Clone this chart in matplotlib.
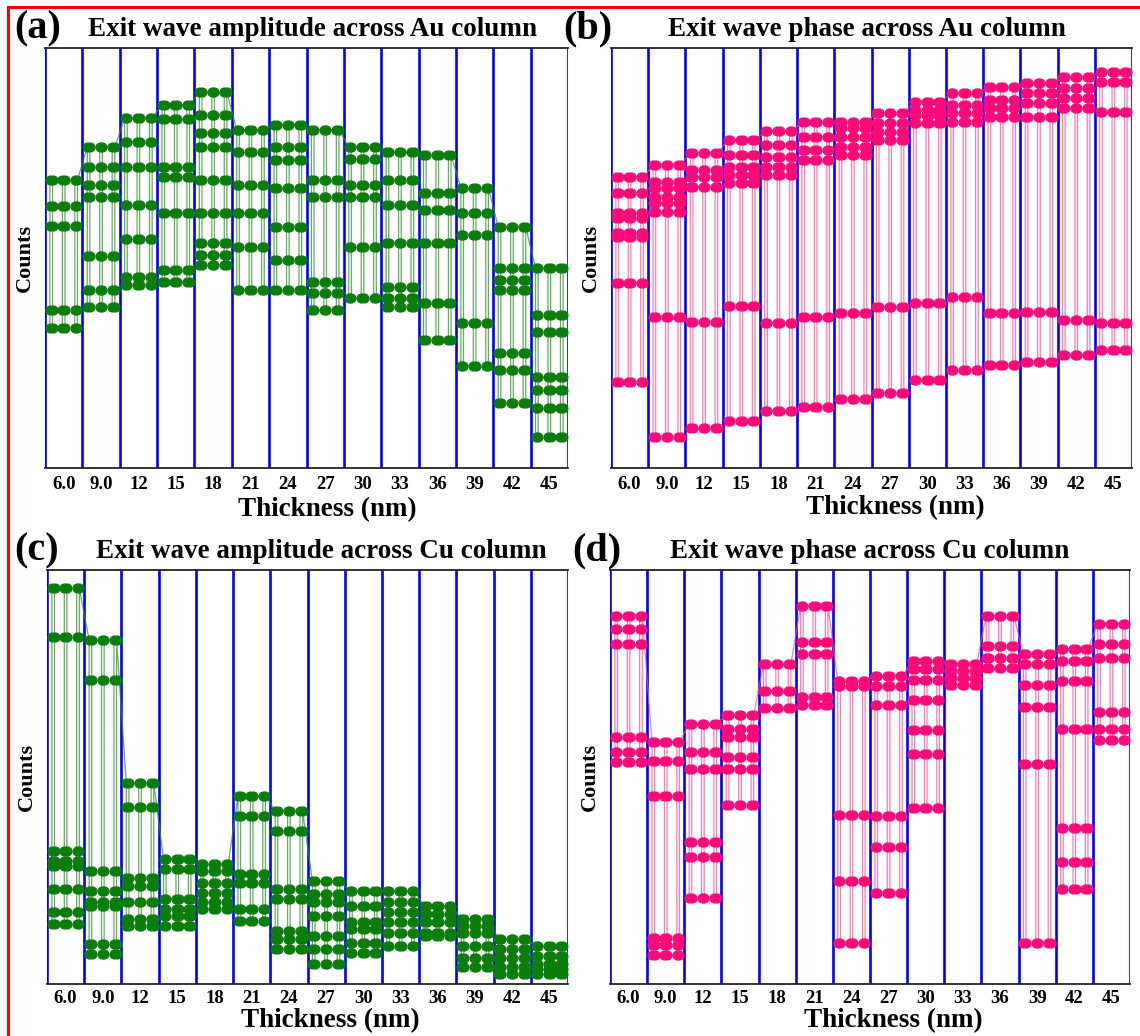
import numpy as np
import matplotlib
matplotlib.use("Agg")
import matplotlib.pyplot as plt
from matplotlib.lines import Line2D

plt.rcParams["font.family"] = ["Liberation Serif", "DejaVu Serif"]
plt.rcParams["font.weight"] = "bold"

# %% data: levels visited by each line profile, one list per thickness
thickness = ["6.0", "9.0", "12", "15", "18", "21", "24", "27", "30", "33", "36", "39", "42", "45"]

amp_au = [
    [68.6, 62.4, 57.6, 37.6, 33.3],
    [76.4, 71.7, 67.4, 64.5, 50.5, 42.4, 38.3],
    [83.3, 77.6, 71.7, 62.6, 54.5, 45.5, 43.6],
    [86.4, 83.1, 71.7, 69.3, 60.7, 47.1, 44.3],
    [89.5, 84.0, 79.8, 76.4, 68.6, 60.7, 53.6, 50.7, 48.3],
    [80.5, 75.2, 67.4, 60.7, 52.6, 42.4],
    [81.7, 76.4, 73.3, 66.7, 57.4, 49.5, 42.4],
    [80.5, 68.6, 64.5, 44.3, 41.7, 37.6],
    [76.4, 73.6, 67.4, 64.5, 52.6, 40.5],
    [75.2, 68.6, 62.6, 53.6, 43.1, 40.5, 38.3],
    [74.5, 65.5, 61.4, 53.6, 39.3, 30.5],
    [66.7, 60.7, 55.5, 34.5, 24.3],
    [57.4, 47.6, 44.8, 42.4, 27.4, 23.3, 15.5],
    [47.6, 36.4, 32.4, 21.7, 18.6, 14.3, 7.4],
]

phase_au = [
    [69.3, 65.5, 60.7, 59.5, 56.0, 55.0, 44.0, 20.5],
    [72.1, 68.1, 66.7, 64.5, 63.1, 61.0, 36.0, 7.4],
    [75.0, 71.0, 69.3, 66.9, 34.8, 9.5],
    [78.1, 74.5, 71.7, 69.8, 67.9, 38.6, 11.2],
    [80.2, 76.9, 74.0, 71.7, 69.8, 34.5, 13.6],
    [82.4, 78.8, 75.7, 73.3, 36.0, 14.5],
    [82.4, 81.0, 78.8, 76.4, 74.5, 36.9, 16.4],
    [84.5, 82.1, 80.0, 78.1, 38.3, 17.9],
    [87.1, 85.2, 84.0, 82.1, 39.3, 21.0],
    [89.3, 86.4, 84.5, 82.4, 40.7, 23.3],
    [90.7, 87.6, 85.7, 83.6, 36.9, 24.5],
    [91.7, 89.3, 86.9, 83.6, 37.1, 25.2],
    [93.1, 90.5, 88.1, 85.7, 35.2, 26.9],
    [94.3, 91.9, 84.8, 34.5, 28.1],
]

amp_cu = [
    [95.6, 83.9, 32.1, 29.7, 28.5, 22.9, 17.3, 14.5],
    [83.1, 73.5, 27.3, 22.5, 19.7, 18.9, 9.6, 7.2],
    [48.6, 42.8, 25.7, 23.7, 19.7, 15.7, 14.1],
    [30.1, 27.7, 20.5, 18.1, 16.5, 14.1],
    [28.9, 27.3, 24.5, 22.1, 19.7, 18.1],
    [45.4, 40.6, 26.5, 24.5, 18.1, 15.3],
    [41.8, 36.9, 22.9, 20.5, 12.9, 10.8, 8.4],
    [24.9, 21.7, 19.7, 16.5, 11.6, 8.4, 4.8],
    [22.5, 18.9, 14.9, 13.3, 10.0, 7.6],
    [22.5, 19.7, 17.3, 14.9, 12.4, 9.2],
    [18.9, 16.9, 14.9, 12.4, 11.6],
    [15.7, 14.1, 12.4, 9.2, 6.4, 4.0],
    [10.8, 8.4, 6.4, 4.0, 2.4],
    [9.2, 6.8, 4.8, 3.6, 2.4],
]

phase_cu = [
    [89.0, 85.7, 82.1, 59.7, 56.0, 53.6],
    [58.5, 53.9, 45.4, 11.1, 9.4, 7.0],
    [62.8, 56.0, 51.9, 34.3, 30.7, 20.8],
    [65.0, 61.6, 59.7, 54.8, 51.9, 43.2],
    [77.2, 70.7, 66.7],
    [91.3, 82.5, 79.7, 69.4, 67.4],
    [73.2, 72.0, 40.8, 24.9, 9.9],
    [74.4, 72.0, 67.4, 40.5, 33.1, 22.1],
    [78.0, 76.0, 73.5, 68.6, 61.4, 55.6, 42.5],
    [77.2, 75.6, 73.9, 72.2],
    [89.0, 81.6, 78.8, 76.3],
    [79.7, 77.2, 72.2, 66.9, 53.1, 9.9],
    [80.9, 78.0, 73.2, 61.6, 37.7, 29.5, 22.9],
    [87.0, 82.1, 78.7, 65.7, 61.6, 58.9],
]

titles = ["Exit wave amplitude across Au column", "Exit wave phase across Au column",
          "Exit wave amplitude across Cu column", "Exit wave phase across Cu column"]
tags = ["(a)", "(b)", "(c)", "(d)"]

green = ("#0b7d0b", "#2f922f")
pink = ("#ff0a78", "#ff4f96")


def profile(levels, n_per=3, d=0.035):
    # each thickness holds n_per repeats of the column profile: down one strand, back up the next
    xs, ys = [], []
    for i, lv in enumerate(levels):
        lv = sorted(lv, reverse=True)
        for p in range(n_per):
            xc = i + (p + 0.5) / n_per
            xs += [xc - d] * len(lv) + [xc + d] * len(lv)
            ys += lv + lv[::-1]
    return np.array(xs), np.array(ys)


fig = plt.figure(figsize=(11.4, 10.36), dpi=100)
W, H = 1140, 1036

# axes boxes in pixels: left, top, right, bottom
boxes = [(45, 48, 568, 468), (611, 48, 1132, 468), (47, 570, 568, 984), (610, 570, 1130, 984)]
datas = [amp_au, phase_au, amp_cu, phase_cu]
colors = [green, pink, green, pink]
title_x = [313, 867, 321, 870]
tag_x = [38, 588, 37, 597]
xlab_x = [327, 895, 330, 893]
xlab_dy = [42, 40, 37, 37]
tick_pad = [6, 6, 4, 4]

for k in range(4):
    l, t, r, b = boxes[k]
    ax = fig.add_axes([l / W, 1 - b / H, (r - l) / W, (b - t) / H])
    n = len(thickness)
    for xb in range(n + 1):
        ax.axvline(xb, color="#0000ff", lw=1.9, zorder=1)
    xs, ys = profile(datas[k])
    mc, lc = colors[k]
    ax.plot(xs, ys, color=lc, lw=0.9, alpha=0.75, zorder=2)
    ax.plot(xs, ys, ls="none", marker="o", ms=6.3, color=mc, mec=mc, zorder=3)
    ax.set_xlim(0, n)
    ax.set_ylim(0, 100)
    ax.set_xticks(np.arange(n) + 0.5)
    ax.set_xticklabels(thickness, fontsize=13.5, fontweight="bold")
    ax.tick_params(axis="x", length=0, pad=tick_pad[k])
    ax.set_yticks([])
    for s in ["left", "right"]:
        ax.spines[s].set_visible(False)
    for s in ["top", "bottom"]:
        ax.spines[s].set_color("#222222")
        ax.spines[s].set_linewidth(1.3)

    fig.text(title_x[k] / W, 1 - (t - 18) / H, titles[k], fontsize=19.5, fontweight="bold",
             ha="center", va="center")
    fig.text(tag_x[k] / W, 1 - (t - 19) / H, tags[k], fontsize=29, fontweight="bold",
             ha="center", va="center")
    fig.text(xlab_x[k] / W, 1 - (b + xlab_dy[k]) / H, "Thickness (nm)", fontsize=19.5,
             fontweight="bold", ha="center", va="center")
    fig.text((l - 20) / W, 1 - ((t + b) / 2) / H, "Counts", fontsize=16, fontweight="bold",
             ha="center", va="center", rotation=90)

# red frame along the top and left edge
fig.add_artist(Line2D([8 / W, 1], [1 - 7 / H, 1 - 7 / H], color="#ff0000", lw=2.2))
fig.add_artist(Line2D([8 / W, 8 / W], [0, 1 - 7 / H], color="#ff0000", lw=2.2))

fig.savefig("out.png", dpi=100, facecolor="white")
